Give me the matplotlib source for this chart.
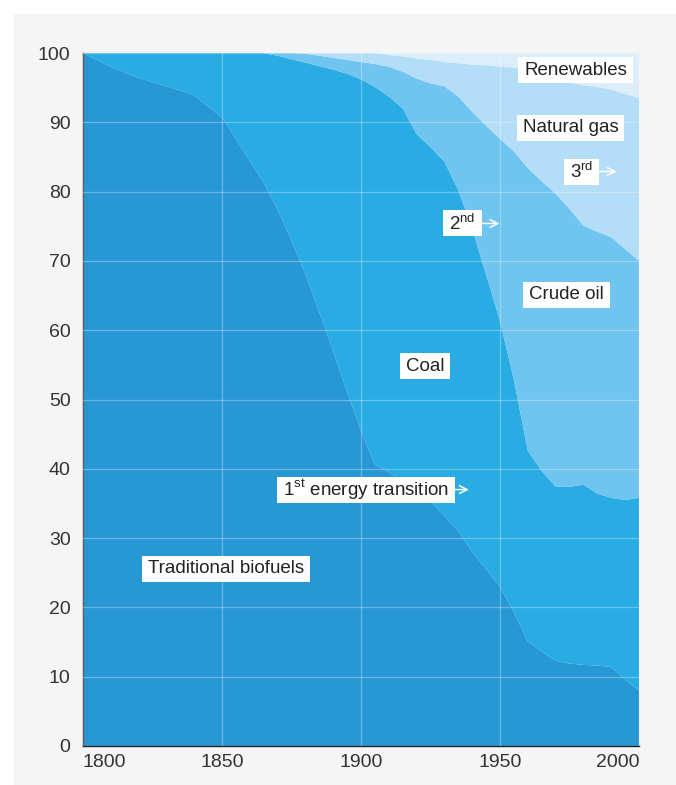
import matplotlib.pyplot as plt
from matplotlib.patches import Rectangle

plt.rcParams['font.family'] = ['Liberation Sans', 'DejaVu Sans']
plt.rcParams['mathtext.fontset'] = 'custom'
plt.rcParams['mathtext.rm'] = 'Liberation Sans'

years = [1800, 1810, 1820, 1830, 1840, 1850, 1855, 1860, 1865, 1870, 1875, 1880,
         1885, 1890, 1895, 1900, 1905, 1910, 1915, 1920, 1925, 1930, 1935, 1940,
         1945, 1950, 1955, 1960, 1965, 1970, 1975, 1980, 1985, 1990, 1995, 2000]

# share of global primary energy supply, %
biofuels = [100, 98.0, 96.4, 95.2, 93.9, 90.7, 87.6, 84.4, 81.3, 77.4, 72.9, 68.1,
            62.6, 56.9, 51.1, 45.5, 40.6, 39.5, 38.2, 36.8, 35.3, 33.2, 31.0, 28.0,
            25.5, 23.0, 19.3, 15.1, 13.6, 12.3, 11.9, 11.7, 11.6, 11.4, 9.6, 8.0]
coal = [0, 2.0, 3.6, 4.8, 6.1, 9.3, 12.4, 15.6, 18.7, 22.2, 26.2, 30.5,
        35.5, 40.7, 45.9, 50.7, 54.5, 54.2, 53.8, 51.5, 51.1, 51.1, 49.2, 46.6,
        42.5, 38.3, 33.5, 27.5, 26.1, 25.1, 25.5, 26.0, 24.8, 24.4, 25.9, 27.8]
crude_oil = [0, 0, 0, 0, 0, 0, 0, 0, 0, 0.4, 0.9, 1.3,
             1.5, 1.7, 2.0, 2.5, 3.3, 4.3, 5.3, 8.0, 9.2, 10.9, 13.5, 16.9,
             21.5, 26.3, 33.0, 40.8, 41.8, 42.3, 40.1, 37.4, 37.8, 37.6, 36.2, 34.2]
natural_gas = [0, 0, 0, 0, 0, 0, 0, 0, 0, 0, 0, 0.1,
               0.4, 0.7, 1.0, 1.3, 1.6, 1.7, 2.2, 2.9, 3.4, 3.5, 4.8, 6.8,
               8.7, 10.4, 12.1, 14.1, 15.4, 16.6, 18.3, 20.2, 20.9, 21.3, 22.4, 23.5]
renewables = [0, 0, 0, 0, 0, 0, 0, 0, 0, 0, 0, 0,
              0, 0, 0, 0, 0, 0.3, 0.5, 0.8, 1.0, 1.3, 1.5, 1.7,
              1.8, 2.0, 2.1, 2.5, 3.1, 3.7, 4.2, 4.7, 4.9, 5.3, 5.9, 6.5]

colors = ['#2898d5', '#29abe3', '#6fc4f0', '#b4ddf7', '#dbeefa']

fig = plt.figure(figsize=(6.76, 7.85), dpi=100)
fig.patches.append(Rectangle((14 / 676, 0), 1, 1 - 14 / 785, transform=fig.transFigure,
                             facecolor='#f5f5f5', edgecolor='none', zorder=-10))

ax = fig.add_axes([83 / 676, 1 - 746 / 785, 556 / 676, 693 / 785])
ax.stackplot(years, biofuels, coal, crude_oil, natural_gas, renewables,
             colors=colors, linewidth=0)
ax.set_facecolor(colors[-1])
ax.set_xlim(1800, 2000)
ax.set_ylim(0, 100)

ax.set_yticks(range(0, 101, 10))
ax.set_xticks([1800, 1850, 1900, 1950, 2000])
ax.tick_params(length=0, labelsize=14, labelcolor='#333333')
ax.tick_params(axis='y', pad=9)
ax.tick_params(axis='x', pad=6)
xlabels = ax.get_xticklabels()
xlabels[0].set_horizontalalignment('left')
xlabels[-1].set_horizontalalignment('right')

ax.set_axisbelow(False)
ax.grid(True, color='white', alpha=0.3, linewidth=0.9)
for side in ['top', 'right']:
    ax.spines[side].set_visible(False)
for side in ['left', 'bottom']:
    ax.spines[side].set_color('#222222')
    ax.spines[side].set_linewidth(1.0)

labels = [
    ('Renewables', 1977.3, 97.5),
    ('Natural gas', 1975.4, 89.2),
    ('Crude oil', 1973.8, 65.1),
    ('Coal', 1923.1, 54.8),
    ('Traditional biofuels', 1851.5, 25.6),
    (r'3$^{\mathrm{rd}}$', 1979.4, 82.9),
    (r'2$^{\mathrm{nd}}$', 1936.5, 75.4),
    (r'1$^{\mathrm{st}}$ energy transition', 1901.7, 37.0),
]
texts = []
for text, x, y in labels:
    t = ax.text(x, y, text, ha='center', va='center', fontsize=13.5, color='#222222',
                zorder=6)
    texts.append((t, x, y))

# white boxes: fixed height, padded around each label's width
fig.canvas.draw()
renderer = fig.canvas.get_renderer()
to_axes = ax.transAxes.inverted()
for t, x, y in texts:
    bb = t.get_window_extent(renderer)
    cx, cy = ax.transData.transform((x, y))
    (x0, y0), (x1, y1) = to_axes.transform([(bb.x0 - 6, cy - 13), (bb.x1 + 6, cy + 13)])
    ax.add_patch(Rectangle((x0, y0), x1 - x0, y1 - y0, transform=ax.transAxes,
                           facecolor='white', edgecolor='none', zorder=5))

arrows = [(1985.8, 1992.0, 82.9), (1943.5, 1949.8, 75.4), (1932.6, 1938.8, 37.0)]
for x0, x1, y in arrows:
    ax.annotate('', xy=(x1, y), xytext=(x0, y),
                arrowprops=dict(arrowstyle='->', color='white', lw=1.1,
                                mutation_scale=14, shrinkA=0, shrinkB=0), zorder=5)

fig.savefig('out.png', dpi=100, facecolor='white')
